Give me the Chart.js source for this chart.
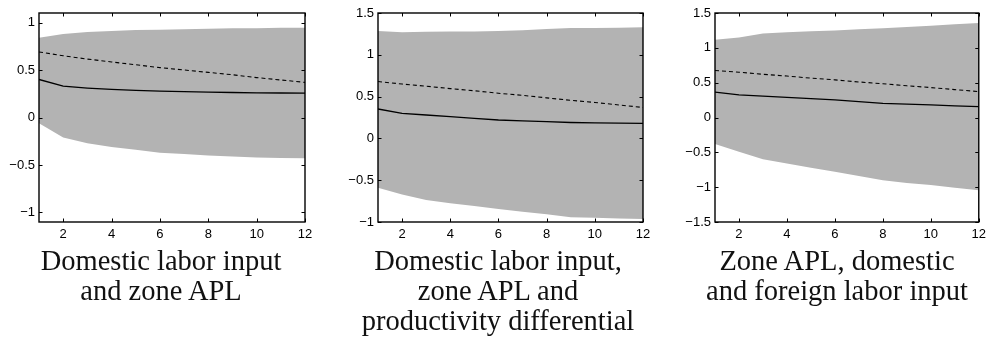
<!DOCTYPE html>
<html>
<head>
<meta charset="utf-8">
<script src="https://cdn.jsdelivr.net/npm/chart.js@4/dist/chart.umd.min.js"></script>
<style>
  html, body { margin: 0; padding: 0; background: #fff; }
  #wrap { position: relative; width: 991px; height: 342px; overflow: hidden; }
  .panel { position: absolute; top: 0; }
  .ttl { position: absolute; width: 360px; text-align: center; font-family: "Liberation Serif", "DejaVu Serif", serif;
         font-size: 28.5px; line-height: 30px; color: #111; top: 246px; white-space: nowrap; }
</style>
</head>
<body>
<div id="wrap">
  <div class="panel" style="left:0px;"><canvas id="c1" width="330" height="250"></canvas></div>
  <div class="panel" style="left:330px;"><canvas id="c2" width="330" height="250"></canvas></div>
  <div class="panel" style="left:660px;"><canvas id="c3" width="331" height="250"></canvas></div>
  <div class="ttl" id="t1" style="left:-19px;"></div>
  <div class="ttl" id="t2" style="left:318px;"></div>
  <div class="ttl" id="t3" style="left:657px;"></div>
</div>
<script>
// ---------- data ----------
const horizon = [1, 2, 3, 4, 5, 6, 7, 8, 9, 10, 11, 12];
const xTicks = [2, 4, 6, 8, 10, 12];

const titles = [
  ["Domestic labor input", "and zone APL"],
  ["Domestic labor input,", "zone APL and", "productivity differential"],
  ["Zone APL, domestic", "and foreign labor input"]
];

// Panel 1
const p1Upper  = [0.84, 0.88, 0.90, 0.91, 0.92, 0.925, 0.93, 0.935, 0.94, 0.94, 0.945, 0.945];
const p1Lower  = [-0.06, -0.21, -0.27, -0.31, -0.34, -0.37, -0.385, -0.40, -0.41, -0.42, -0.425, -0.43];
const p1Solid  = [0.40, 0.33, 0.31, 0.295, 0.285, 0.277, 0.272, 0.267, 0.263, 0.26, 0.258, 0.256];
const p1Dashed = [0.69, 0.65, 0.615, 0.585, 0.555, 0.525, 0.50, 0.475, 0.45, 0.42, 0.395, 0.37];
const p1YTicks = [-1, -0.5, 0, 0.5, 1];
const p1YRange = [-1.1, 1.1];

// Panel 2
const p2Upper  = [1.285, 1.27, 1.275, 1.278, 1.28, 1.285, 1.295, 1.31, 1.32, 1.32, 1.325, 1.33];
const p2Lower  = [-0.59, -0.67, -0.737, -0.776, -0.81, -0.845, -0.878, -0.908, -0.944, -0.95, -0.958, -0.964];
const p2Solid  = [0.352, 0.30, 0.28, 0.26, 0.24, 0.22, 0.21, 0.20, 0.19, 0.185, 0.182, 0.18];
const p2Dashed = [0.68, 0.65, 0.625, 0.595, 0.57, 0.54, 0.515, 0.485, 0.455, 0.43, 0.40, 0.37];
const p2YTicks = [-1, -0.5, 0, 0.5, 1, 1.5];
const p2YRange = [-1, 1.5];

// Panel 3
const p3Upper  = [1.117, 1.15, 1.207, 1.225, 1.238, 1.25, 1.265, 1.28, 1.30, 1.318, 1.338, 1.357];
const p3Lower  = [-0.38, -0.49, -0.60, -0.66, -0.72, -0.78, -0.84, -0.90, -0.94, -0.97, -1.01, -1.045];
const p3Solid  = [0.363, 0.324, 0.307, 0.29, 0.27, 0.252, 0.228, 0.204, 0.192, 0.18, 0.168, 0.156];
const p3Dashed = [0.675, 0.65, 0.62, 0.595, 0.565, 0.54, 0.51, 0.485, 0.455, 0.43, 0.40, 0.372];
const p3YTicks = [-1.5, -1, -0.5, 0, 0.5, 1, 1.5];
const p3YRange = [-1.5, 1.5];

// ---------- rendering ----------
const pts = arr => arr.map((v, i) => ({ x: horizon[i], y: v }));
const fmt = v => (v < 0 ? "\u2212" : "") + String(Math.abs(v));

const boxPlugin = {
  id: 'matlabBox',
  afterDatasetsDraw(chart) {
    const { ctx, chartArea: a, scales } = chart;
    ctx.save();
    ctx.strokeStyle = '#000';
    ctx.lineWidth = 1;
    const tl = 3.5;
    ctx.beginPath();
    scales.x.ticks.forEach(t => {
      const px = Math.round(scales.x.getPixelForValue(t.value)) + 0.5;
      ctx.moveTo(px, a.bottom); ctx.lineTo(px, a.bottom - tl);
      ctx.moveTo(px, a.top); ctx.lineTo(px, a.top + tl);
    });
    scales.y.ticks.forEach(t => {
      const py = Math.round(scales.y.getPixelForValue(t.value)) + 0.5;
      ctx.moveTo(a.left, py); ctx.lineTo(a.left + tl, py);
      ctx.moveTo(a.right, py); ctx.lineTo(a.right - tl, py);
    });
    ctx.stroke();
    ctx.lineWidth = 1.4;
    ctx.strokeRect(a.left, a.top, a.right - a.left, a.bottom - a.top);
    ctx.restore();
  }
};

function makePanel(id, upper, lower, solid, dashed, yTicks, yRange, yWidth, padRight) {
  const tickFont = { family: "'Liberation Sans', Arial, sans-serif", size: 13 };
  new Chart(document.getElementById(id), {
    type: 'line',
    data: {
      datasets: [
        { data: pts(upper), borderWidth: 0, pointRadius: 0, backgroundColor: '#b3b3b3', borderColor: 'rgba(0,0,0,0)', fill: '+1', order: 3 },
        { data: pts(lower), borderWidth: 0, pointRadius: 0, backgroundColor: '#b3b3b3', borderColor: 'rgba(0,0,0,0)', fill: false, order: 3 },
        { data: pts(solid), borderWidth: 1.3, pointRadius: 0, borderColor: '#000', fill: false, order: 1 },
        { data: pts(dashed), borderWidth: 1.1, pointRadius: 0, borderColor: '#000', borderDash: [4, 3], fill: false, order: 2 }
      ]
    },
    options: {
      responsive: false,
      animation: false,
      devicePixelRatio: 1,
      layout: { padding: { top: 13, right: padRight, left: 0, bottom: 0 } },
      plugins: { legend: { display: false }, tooltip: { enabled: false }, title: { display: false } },
      elements: { line: { tension: 0 } },
      scales: {
        x: {
          type: 'linear', min: 1, max: 12,
          grid: { display: false, drawTicks: false },
          border: { display: false },
          afterBuildTicks: s => { s.ticks = xTicks.map(v => ({ value: v })); },
          afterFit: s => { s.height = 28; },
          ticks: { color: '#000', font: tickFont, padding: 5, maxRotation: 0, autoSkip: false, callback: v => fmt(v) }
        },
        y: {
          type: 'linear', min: yRange[0], max: yRange[1],
          grid: { display: false, drawTicks: false },
          border: { display: false },
          afterBuildTicks: s => { s.ticks = yTicks.map(v => ({ value: v })); },
          afterFit: s => { s.width = yWidth; },
          ticks: { color: '#000', font: tickFont, padding: 4, autoSkip: false, callback: v => fmt(v) }
        }
      }
    },
    plugins: [boxPlugin]
  });
}

makePanel('c1', p1Upper, p1Lower, p1Solid, p1Dashed, p1YTicks, p1YRange, 39, 25);
makePanel('c2', p2Upper, p2Lower, p2Solid, p2Dashed, p2YTicks, p2YRange, 48, 17);
makePanel('c3', p3Upper, p3Lower, p3Solid, p3Dashed, p3YTicks, p3YRange, 55, 10);

titles.forEach((lines, i) => {
  document.getElementById('t' + (i + 1)).innerHTML = lines.join('<br>');
});
</script>
</body>
</html>
